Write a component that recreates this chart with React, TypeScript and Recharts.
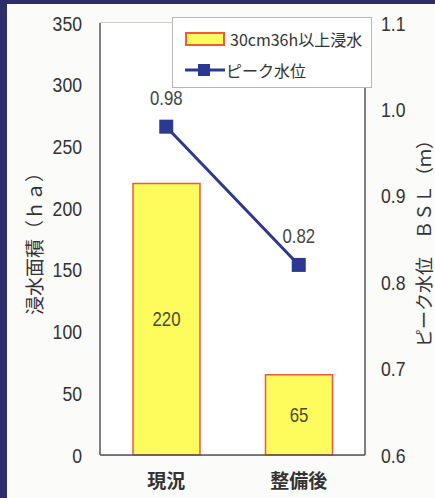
import React from 'react';
import {
  ComposedChart,
  Bar,
  Line,
  XAxis,
  YAxis,
  CartesianGrid,
  Legend,
  LabelList,
} from 'recharts';

const categories = ['現況', '整備後'];
const floodArea = [220, 65];
const peakLevel = [0.98, 0.82];
const areaTicks = [0, 50, 100, 150, 200, 250, 300, 350];
const levelTicks = [0.6, 0.7, 0.8, 0.9, 1.0, 1.1];

const data = categories.map((name, i) => ({
  name,
  area: floodArea[i],
  level: peakLevel[i],
}));

const NUM_FONT = '"Liberation Sans", Arial, sans-serif';
const JP_FONT = '"Noto Sans CJK JP", "Noto Sans", sans-serif';
const BLUE = '#2b3990';
const SQUEEZE = 0.84;

// condensed numeric text, squeezed horizontally around its anchor point
const NarrowText = ({ x, y, anchor, size, fill, children }: any) => (
  <g transform={`translate(${x},${y}) scale(${SQUEEZE},1)`}>
    <text
      x={0}
      y={0}
      textAnchor={anchor}
      dominantBaseline="central"
      fontFamily={NUM_FONT}
      fontSize={size}
      fill={fill}
    >
      {children}
    </text>
  </g>
);

const LeftTick = ({ x, y, payload }: any) => (
  <NarrowText x={x} y={y} anchor="end" size={21} fill="#333">
    {payload.value}
  </NarrowText>
);

const RightTick = ({ x, y, payload }: any) => (
  <NarrowText x={x} y={y} anchor="start" size={21} fill="#333">
    {Number(payload.value).toFixed(1)}
  </NarrowText>
);

const BarValue = ({ x, y, width, height, value }: any) => (
  <NarrowText x={x + width / 2} y={y + height / 2} anchor="middle" size={20} fill="#4a4a2e">
    {value}
  </NarrowText>
);

const LevelValue = ({ x, y, value }: any) => (
  <NarrowText x={x} y={y - 29} anchor="middle" size={20} fill="#444">
    {Number(value).toFixed(2)}
  </NarrowText>
);

const SquareDot = (props: any) => {
  const { cx, cy } = props;
  if (cx == null || cy == null) return null;
  return <rect x={cx - 7} y={cy - 7} width={14} height={14} fill={BLUE} />;
};

const LegendBox = () => (
  <div
    style={{
      width: 200,
      height: 71,
      boxSizing: 'border-box',
      background: '#ffffff',
      border: '1px solid #b8b8b8',
      fontFamily: JP_FONT,
      fontSize: 16,
      color: '#333',
    }}
  >
    <div style={{ display: 'flex', alignItems: 'center', height: 33, marginTop: 4 }}>
      <span
        style={{
          display: 'inline-block',
          width: 36,
          height: 10,
          marginLeft: 12,
          marginRight: 5,
          background: '#fdfc5c',
          border: '2px solid #ee5a3a',
        }}
      />
      <span>30cm36h以上浸水</span>
    </div>
    <div style={{ display: 'flex', alignItems: 'center', height: 30 }}>
      <svg width={40} height={14} style={{ marginLeft: 12, marginRight: 1 }}>
        <line x1={0} y1={7} x2={40} y2={7} stroke={BLUE} strokeWidth={3} />
        <rect x={13} y={1} width={12} height={12} fill={BLUE} />
      </svg>
      <span>ピーク水位</span>
    </div>
  </div>
);

export default function App() {
  return (
    <div
      style={{
        position: 'absolute',
        left: 0,
        top: 0,
        width: 435,
        height: 498,
        background: '#fbfbfa',
        borderLeft: '7px solid #2e2d6b',
        borderTop: '4px solid #2e2d6b',
        boxSizing: 'border-box',
        overflow: 'hidden',
      }}
    >
      <div style={{ position: 'absolute', left: -7, top: -4 }}>
        <ComposedChart
          width={435}
          height={498}
          data={data}
          margin={{ top: 23, right: 0, bottom: 0, left: 0 }}
          barCategoryGap="49%"
        >
          <rect x={100} y={23} width={265} height={432} fill="#ffffff" />
          <CartesianGrid yAxisId="area" vertical={false} stroke="#9a9a9a" strokeWidth={1} />
          <XAxis
            dataKey="name"
            height={43}
            axisLine={{ stroke: '#555', strokeWidth: 1.5 }}
            tickLine={false}
            tickMargin={14}
            tick={{ fontFamily: JP_FONT, fontSize: 19, fontWeight: 700, fill: '#333' }}
          />
          <YAxis
            yAxisId="area"
            orientation="left"
            width={100}
            domain={[0, 350]}
            ticks={areaTicks}
            interval={0}
            axisLine={{ stroke: '#555', strokeWidth: 1.5 }}
            tickLine={false}
            tickSize={0}
            tickMargin={18}
            tick={<LeftTick />}
            label={{
              value: '浸水面積（ｈａ）',
              angle: -90,
              position: 'insideLeft',
              offset: 35,
              style: { fontFamily: JP_FONT, fontSize: 19, fill: '#333', textAnchor: 'middle' },
            }}
          />
          <YAxis
            yAxisId="level"
            orientation="right"
            width={70}
            domain={[0.6, 1.1]}
            ticks={levelTicks}
            interval={0}
            axisLine={{ stroke: '#555', strokeWidth: 1.5 }}
            tickLine={false}
            tickSize={0}
            tickMargin={16}
            tick={<RightTick />}
            label={{
              value: 'ピーク水位　ＢＳＬ（ｍ）',
              angle: -90,
              position: 'insideRight',
              offset: 10,
              style: { fontFamily: JP_FONT, fontSize: 18, fill: '#333', textAnchor: 'middle' },
            }}
          />
          <Bar
            yAxisId="area"
            dataKey="area"
            name="30cm36h以上浸水"
            barSize={67}
            fill="#fdfc5c"
            stroke="#ee5a3a"
            strokeWidth={1.5}
            isAnimationActive={false}
          >
            <LabelList dataKey="area" content={<BarValue />} />
          </Bar>
          <Line
            yAxisId="level"
            dataKey="level"
            name="ピーク水位"
            stroke={BLUE}
            strokeWidth={3}
            dot={<SquareDot />}
            activeDot={false}
            isAnimationActive={false}
          >
            <LabelList dataKey="level" content={<LevelValue />} />
          </Line>
          <Legend
            layout="horizontal"
            verticalAlign="middle"
            align="center"
            content={<LegendBox />}
            wrapperStyle={{ position: 'absolute', left: 172, top: 17, width: 200 }}
          />
        </ComposedChart>
      </div>
    </div>
  );
}
